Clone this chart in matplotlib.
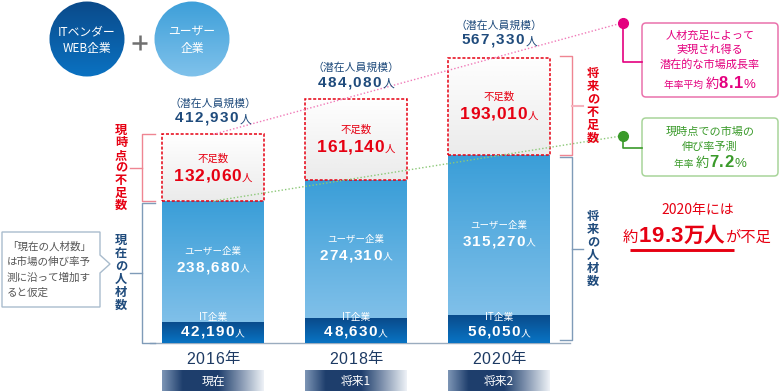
import numpy as np
import matplotlib
matplotlib.use("Agg")
import matplotlib.pyplot as plt
from matplotlib.patches import Circle, FancyBboxPatch, Polygon
from matplotlib.colors import LinearSegmentedColormap

plt.rcParams['font.family'] = ['Noto Sans CJK JP', 'DejaVu Sans']
NUMF = ['Liberation Sans', 'Noto Sans CJK JP']

# data
years = ['2016年', '2018年', '2020年']
stages = ['現在', '将来1', '将来2']
it_firms = [42190, 48630, 56050]
user_firms = [238680, 274310, 315270]
shortage = [132060, 161140, 193010]
potential = [412930, 484080, 567330]

NAVY = '#1f4b7c'
RED = '#e60012'
PINK = '#e4007f'
GREEN = '#3a9a2a'

W, H = 780, 392
fig = plt.figure(figsize=(7.8, 3.92), dpi=100)
fig.patch.set_facecolor('white')

# bar axes: x in px, y in persons
base = 343
k = 0.000505
xc = [213, 356, 499]
bw = 102
ax = fig.add_axes([0, 0, 1, 1])
ylo, yhi = -(H - base) / k, base / k
ax.axis('off')

# overlay axes in pixel coords (top-left origin)
ov = fig.add_axes([0, 0, 1, 1])
ov.axis('off')
ov.patch.set_alpha(0)
ov.set_zorder(3)


def set_lims():
    ax.set_xlim(0, W)
    ax.set_ylim(ylo, yhi)
    ov.set_xlim(0, W)
    ov.set_ylim(H, 0)


set_lims()


def to_px(x, v):
    d = ax.transData.transform((x, v))
    return ov.transData.inverted().transform(d)


def grad(axis, ext, colors, clip, horiz=False, z=2):
    cmap = LinearSegmentedColormap.from_list('g', colors)
    img = np.linspace(0, 1, 256)
    img = img.reshape(1, -1) if horiz else img.reshape(-1, 1)
    im = axis.imshow(img, cmap=cmap, extent=ext, origin='upper',
                     aspect='auto', zorder=z, interpolation='bilinear')
    im.set_clip_path(clip)
    return im


renderer = fig.canvas.get_renderer()


def runs(x, y, parts, ha='center'):
    items = []
    for p in parts:
        s, size, color = p[0], p[1], p[2]
        weight = p[3] if len(p) > 3 else 'normal'
        track = p[4] if len(p) > 4 else 0
        fam = p[5] if len(p) > 5 else None
        chars = list(s) if track else [s]
        for ch in chars:
            kw = dict(fontsize=size, color=color, fontweight=weight,
                      va='baseline', ha='left')
            if fam:
                kw['family'] = fam
            t = ov.text(0, y, ch, **kw)
            w = t.get_window_extent(renderer).width
            tr = track * 0.4 if ch in ',.' else track
            items.append([t, w, tr])
    total = sum(w + tr for _, w, tr in items) - items[-1][2]
    cur = x - total / 2 if ha == 'center' else x
    for t, w, tr in items:
        t.set_x(cur)
        cur += w + tr


def vtext(x, yc, s, color, size=8.8, pitch=12.8):
    n = len(s)
    for i, ch in enumerate(s):
        ov.text(x, yc + (i - (n - 1) / 2) * pitch, ch, fontsize=size,
                color=color, fontweight='bold', ha='center', va='center')


# baseline
ax.plot([150, 570], [0, 0], color='#9aacbf', lw=1, zorder=1)

# stacked bars with gradients
b_it = ax.bar(xc, it_firms, width=bw, color='#0a5ea8', zorder=2)
b_us = ax.bar(xc, user_firms, width=bw, bottom=it_firms, color='#4fa8de', zorder=2)
tops = [a + b for a, b in zip(it_firms, user_firms)]
b_sh = ax.bar(xc, shortage, width=bw, bottom=tops, color='#f6f6f6', zorder=2)
for i in range(3):
    x0, x1 = xc[i] - bw / 2, xc[i] + bw / 2
    grad(ax, (x0, x1, 0, it_firms[i]), ['#0a4a8a', '#0874c4'], b_it[i], z=2.1)
    grad(ax, (x0, x1, it_firms[i], tops[i]), ['#3a9ed8', '#80c0e9'], b_us[i], z=2.1)
    grad(ax, (x0, x1, tops[i], potential[i]), ['#ffffff', '#ebebeb'], b_sh[i], z=2.1)
ax.bar(xc, shortage, width=bw, bottom=tops, facecolor='none', edgecolor=RED,
       lw=1.1, linestyle=(0, (2, 1.2)), zorder=2.5)

# dotted growth lines through data, extended to the callout dots
xd = 623
pot_end = potential[0] + (potential[2] - potential[0]) / (xc[2] - xc[0]) * (xd - xc[0])
usr_end = tops[0] + (tops[2] - tops[0]) / (xc[2] - xc[0]) * (xd - xc[0])
ax.plot([xc[0], xd], [potential[0], pot_end], color='#f07ab8', lw=1,
        linestyle=(0, (1, 1.5)), zorder=3)
ax.plot([xc[0], xd], [tops[0], usr_end], color='#8cc878', lw=1,
        linestyle=(0, (1, 1.5)), zorder=3)
ax.plot([xd], [pot_end], 'o', color=PINK, ms=7, zorder=4)
ax.plot([xd], [usr_end], 'o', color=GREEN, ms=7, zorder=4)

# bar labels
for i in range(3):
    top_px = to_px(xc[i], potential[i])[1]
    sh_px = to_px(xc[i], tops[i])[1]
    it_px = to_px(xc[i], it_firms[i])[1]
    ov.text(xc[i], top_px - 31, '（潜在人員規模）', fontsize=7.8, color=NAVY,
            ha='center', va='center')
    runs(xc[i], top_px - 12, [(f'{potential[i]:,}', 11, NAVY, 'bold', 1.4, NUMF),
                               ('人', 8.5, NAVY, 'normal', 0)])
    c = (top_px + sh_px) / 2
    ov.text(xc[i], c - 9, '不足数', fontsize=7.5, color=RED, ha='center', va='center')
    runs(xc[i], c + 13, [(f'{shortage[i]:,}', 12.5, RED, 'bold', 0.8, NUMF),
                         ('人', 7.5, RED, 'normal', 0)])
    c = (sh_px + it_px) / 2
    ov.text(xc[i], c - 9.5, 'ユーザー企業', fontsize=6.8, color='white',
            ha='center', va='center')
    runs(xc[i], c + 10.5, [(f'{user_firms[i]:,}', 11, 'white', 'bold', 1.3, NUMF),
                           ('人', 7, 'white', 'normal', 0)])
    ov.text(xc[i], base - 26, 'IT企業', fontsize=7, color='white',
            ha='center', va='center')
    runs(xc[i], base - 7, [(f'{it_firms[i]:,}', 11, 'white', 'bold', 1.3, NUMF),
                           ('人', 7, 'white', 'normal', 0)])
    # year and stage tag
    runs(xc[i], 363.5, [(years[i][:-1], 11.5, '#1d3a63', 'normal', 0.8, NUMF),
                        (years[i][-1], 11, '#1d3a63', 'normal', 0)])
    x0 = xc[i] - bw / 2
    tag = FancyBboxPatch((x0, 370), bw, 21, boxstyle='square,pad=0',
                         facecolor='none', edgecolor='none')
    ov.add_patch(tag)
    grad(ov, (x0, x0 + bw, 391, 370),
         [(0, '#7d95b5'), (0.2, '#1f3f6d'), (0.55, '#1d3d6c'), (1, '#eef2f7')],
         tag, horiz=True)
    ov.text(xc[i], 381, stages[i], fontsize=8.5, color='white', ha='center', va='center')

# brackets
p_top = to_px(xc[0], potential[0])[1]
p_mid = to_px(xc[0], tops[0])[1]
p_bot = base
RB, BB = '#ef8592', '#7f9bb8'
ov.plot([155, 142, 142, 155], [p_top, p_top, p_mid, p_mid], color=RB, lw=1)
ov.plot([130, 142], [(p_top + p_mid) / 2] * 2, color=RB, lw=1)
ov.plot([155, 142, 142, 155], [p_mid + 2, p_mid + 2, p_bot, p_bot], color=BB, lw=1)
ov.plot([130, 142], [(p_mid + p_bot) / 2 + 1] * 2, color=BB, lw=1)
vtext(121, (p_top + p_mid) / 2, '現時点の不足数', RED, pitch=12.6)
vtext(121, (p_mid + p_bot) / 2 + 1, '現在の人材数', NAVY, pitch=13)

q_top = to_px(xc[2], potential[2])[1]
q_mid = to_px(xc[2], tops[2])[1]
ov.plot([560, 572, 572, 560], [q_top, q_top, q_mid, q_mid], color=RB, lw=1)
ov.plot([572, 583], [(q_top + q_mid) / 2] * 2, color='#f5b3be', lw=1.5)
ov.plot([560, 572, 572, 560], [q_mid + 2, q_mid + 2, base - 3, base - 3], color=BB, lw=1)
ov.plot([572, 583], [(q_mid + base) / 2] * 2, color=BB, lw=1)
vtext(593, (q_top + q_mid) / 2, '将来の不足数', RED, pitch=12.8)
vtext(593, (q_mid + base) / 2, '将来の人材数', NAVY, pitch=13)

# left callout
ov.add_patch(Polygon([(2, 232), (100, 232), (100, 255), (110, 264), (100, 273),
                      (100, 307), (2, 307)], closed=True, facecolor='white',
                     edgecolor='#a9bccd', lw=1))
for j, line in enumerate(['「現在の人材数」', 'は市場の伸び率予', '測に沿って増加す', 'ると仮定']):
    ov.text(7, 247 + j * 15.3, line, fontsize=7.6, color='#555555', ha='left', va='center')

# circles
for cx, cols, lines in [(87, ['#0a4a8a', '#0b72c2'], ['ITベンダー', 'WEB企業']),
                        (192, ['#3d9fd9', '#80c2eb'], ['ユーザー', '企業'])]:
    circ = Circle((cx, 39), 37.5, facecolor='none', edgecolor='none')
    ov.add_patch(circ)
    grad(ov, (cx - 38, cx + 38, 77, 1), cols, circ)
    ov.text(cx, 32, lines[0], fontsize=8.5, color='white', ha='center', va='center')
    ov.text(cx, 48, lines[1], fontsize=8.5, color='white', ha='center', va='center')
ov.plot([132, 147], [42.5, 42.5], color='#707070', lw=1.8, solid_capstyle='butt')
ov.plot([139.5, 139.5], [35, 50], color='#707070', lw=1.8, solid_capstyle='butt')

# right callouts
pdot = to_px(xd, pot_end)[1]
gdot = to_px(xd, usr_end)[1]
ov.plot([xd, xd, 642], [pdot, 62, 62], color=PINK, lw=1.2)
ov.plot([xd, xd, 642], [gdot, 148, 148], color=GREEN, lw=1.2)
ov.add_patch(FancyBboxPatch((642, 23), 136, 74, boxstyle='round,pad=0,rounding_size=4',
                            facecolor='white', edgecolor='#ea72ac', lw=1.1))
ov.add_patch(FancyBboxPatch((642, 118), 136, 58, boxstyle='round,pad=0,rounding_size=4',
                            facecolor='white', edgecolor='#a8d59a', lw=1.1))
for j, line in enumerate(['人材充足によって', '実現され得る', '潜在的な市場成長率']):
    ov.text(710, 36 + j * 14, line, fontsize=8, color=PINK, ha='center', va='center')
runs(710, 88, [('年率平均 ', 7, PINK), ('約', 9.5, PINK),
               ('8.1', 12, PINK, 'bold', 0.8, NUMF), ('%', 9.5, PINK, 'normal', 0, NUMF)])
for j, line in enumerate(['現時点での市場の', '伸び率予測']):
    ov.text(710, 132 + j * 15, line, fontsize=8, color=GREEN, ha='center', va='center')
runs(710, 167, [('年率 ', 7, GREEN), ('約', 9.5, GREEN),
                ('7.2', 12, GREEN, 'bold', 0.8, NUMF), ('%', 9.5, GREEN, 'normal', 0, NUMF)])

# bottom-right summary
ov.text(698, 210, '2020年には', fontsize=10, color=RED, ha='center', va='center')
runs(697, 242, [('約', 11, RED), ('19.3', 16, RED, 'bold', 0.5, NUMF),
                ('万人', 15, RED, 'bold'), ('が不足', 11, RED)])
ov.plot([630, 734], [250, 250], color=RED, lw=2.1, solid_capstyle='butt')

set_lims()
fig.savefig('out.png', dpi=100, facecolor='white')
